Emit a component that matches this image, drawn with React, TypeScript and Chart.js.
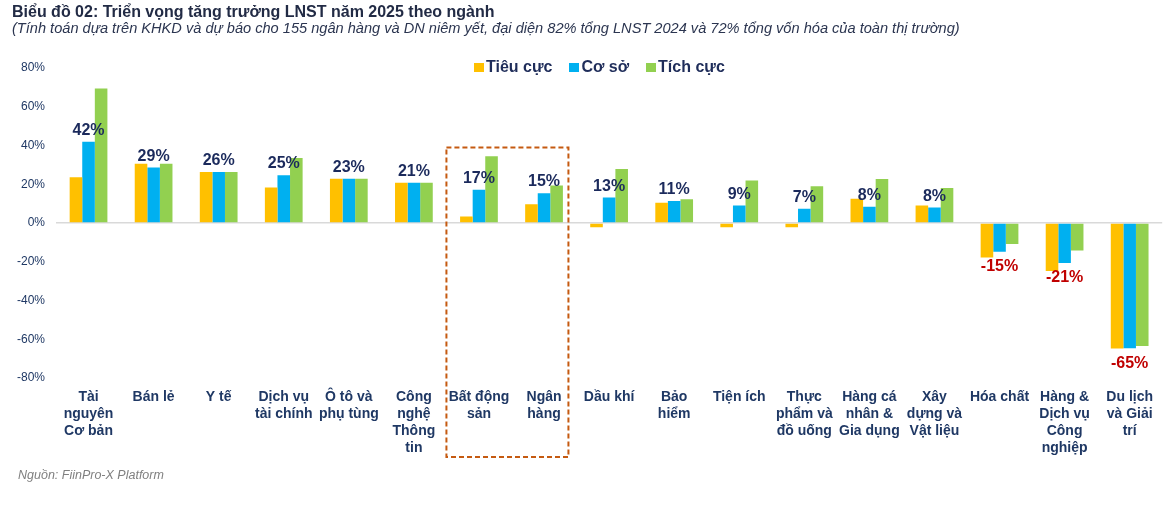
import React, { useEffect, useRef } from "react";
import { Chart, registerables } from "chart.js";

Chart.register(...registerables);

const categories: string[][] = [
  ["Tài", "nguyên", "Cơ bản"],
  ["Bán lẻ"],
  ["Y tế"],
  ["Dịch vụ", "tài chính"],
  ["Ô tô và", "phụ tùng"],
  ["Công", "nghệ", "Thông", "tin"],
  ["Bất động", "sản"],
  ["Ngân", "hàng"],
  ["Dầu khí"],
  ["Bảo", "hiểm"],
  ["Tiện ích"],
  ["Thực", "phẩm và", "đồ uống"],
  ["Hàng cá", "nhân &", "Gia dụng"],
  ["Xây", "dựng và", "Vật liệu"],
  ["Hóa chất"],
  ["Hàng &", "Dịch vụ", "Công", "nghiệp"],
  ["Du lịch", "và Giải", "trí"],
];

const tieuCuc: number[] = [23.6, 30.6, 26.3, 18.3, 22.9, 20.8, 3.4, 9.7, -2.2, 10.4, -2.2, -2.2, 12.5, 9.0, -17.8, -24.8, -64.8];
const coSo: number[] = [42.0, 28.6, 26.3, 24.7, 22.9, 20.8, 17.1, 15.4, 13.1, 11.4, 9.0, 7.4, 8.4, 8.0, -14.9, -20.6, -64.6];
const tichCuc: number[] = [69.4, 30.6, 26.3, 33.5, 22.9, 20.8, 34.5, 19.3, 27.9, 12.3, 21.9, 19.0, 22.7, 18.1, -10.8, -14.2, -63.5];

const seriesNames: string[] = ["Tiêu cực", "Cơ sở", "Tích cực"];
const seriesColors: string[] = ["#FFC000", "#00B0F0", "#92D050"];
const yTicks: number[] = [-80, -60, -40, -20, 0, 20, 40, 60, 80];

const highlightFrom = 6; // "Bất động sản"
const highlightTo = 7; // "Ngân hàng"
const highlightTopValue = 39;

const NAVY = "#1F2D5A";
const FONT = "'Liberation Sans', Arial, sans-serif";

const labelPlugin = {
  id: "valueLabels",
  afterDatasetsDraw(chart: any) {
    const ctx = chart.ctx;
    const meta = chart.getDatasetMeta(1);
    ctx.save();
    ctx.font = `bold 16px ${FONT}`;
    ctx.textAlign = "center";
    meta.data.forEach((bar: any, i: number) => {
      const v = coSo[i];
      const txt = `${Math.round(v)}%`;
      if (v >= 0) {
        ctx.fillStyle = "#1B2A5C";
        ctx.textBaseline = "alphabetic";
        ctx.fillText(txt, bar.x, bar.y - 7);
      } else {
        ctx.fillStyle = "#C00000";
        ctx.textBaseline = "top";
        ctx.fillText(txt, bar.x, bar.y + 7);
      }
    });
    ctx.restore();
  },
};

const boxPlugin = {
  id: "highlightBox",
  afterDraw(chart: any) {
    const ctx = chart.ctx;
    const x = chart.scales.x;
    const y = chart.scales.y;
    const catW = (chart.chartArea.right - chart.chartArea.left) / categories.length;
    const left = x.getPixelForValue(highlightFrom) - catW * 0.5;
    const right = x.getPixelForValue(highlightTo) + catW * 0.375;
    const top = y.getPixelForValue(highlightTopValue);
    const bottom = chart.chartArea.bottom + 79;
    ctx.save();
    ctx.strokeStyle = "#C55A11";
    ctx.lineWidth = 2;
    ctx.setLineDash([5, 3]);
    ctx.strokeRect(left, top, right - left, bottom - top);
    ctx.restore();
  },
};

export default function App() {
  const canvasRef = useRef<HTMLCanvasElement | null>(null);

  useEffect(() => {
    if (!canvasRef.current) return;
    const chart = new Chart(canvasRef.current, {
      type: "bar",
      data: {
        labels: categories,
        datasets: [tieuCuc, coSo, tichCuc].map((d, i) => ({
          label: seriesNames[i],
          data: d,
          backgroundColor: seriesColors[i],
          borderWidth: 0,
          categoryPercentage: 0.58,
          barPercentage: 1.0,
        })),
      },
      options: {
        responsive: false,
        animation: false,
        layout: { padding: { top: 68, left: 0, right: 0, bottom: 0 } },
        plugins: {
          legend: { display: false },
          tooltip: { enabled: false },
          title: { display: false },
        },
        scales: {
          x: {
            grid: { display: false, drawTicks: false },
            border: { display: false },
            ticks: {
              autoSkip: false,
              maxRotation: 0,
              minRotation: 0,
              padding: 11,
              color: "#1F3864",
              font: { family: FONT, size: 14, weight: "bold", lineHeight: 1.2 },
            },
            afterFit: (s: any) => {
              s.height = 128;
            },
          },
          y: {
            min: -80,
            max: 80,
            afterBuildTicks: (s: any) => {
              s.ticks = yTicks.map((v) => ({ value: v }));
            },
            grid: {
              drawTicks: false,
              color: (c: any) => (c.tick && c.tick.value === 0 ? "#D9D9D9" : "rgba(0,0,0,0)"),
              lineWidth: 1.5,
            },
            border: { display: false },
            ticks: {
              padding: 11,
              color: "#1F3864",
              font: { family: FONT, size: 12 },
              callback: (v: any) => `${v}%`,
            },
            afterFit: (s: any) => {
              s.width = 56;
            },
          },
        },
      },
      plugins: [labelPlugin, boxPlugin],
    } as any);
    return () => chart.destroy();
  }, []);

  return (
    <div style={{ position: "fixed", left: 0, top: 0, width: 1164, height: 506, background: "#fff", fontFamily: FONT }}>
      <canvas ref={canvasRef} width={1164} height={506} style={{ position: "absolute", left: 0, top: 0 }} />
      <div style={{ position: "absolute", left: 12, top: 3, fontSize: 16, fontWeight: "bold", color: "#222B45", whiteSpace: "nowrap" }}>
        Biểu đồ 02: Triển vọng tăng trưởng LNST năm 2025 theo ngành
      </div>
      <div style={{ position: "absolute", left: 12, top: 20, fontSize: 14.6, fontStyle: "italic", color: "#2B3550", whiteSpace: "nowrap" }}>
        (Tính toán dựa trên KHKD và dự báo cho 155 ngân hàng và DN niêm yết, đại diện 82% tổng LNST 2024 và 72% tổng vốn hóa của toàn thị trường)
      </div>
      <div style={{ position: "absolute", left: 474, top: 58, display: "flex", alignItems: "center", gap: 17, fontSize: 16, fontWeight: "bold", color: NAVY, whiteSpace: "nowrap" }}>
        {seriesNames.map((n, i) => (
          <div key={n} style={{ display: "flex", alignItems: "center" }}>
            <span style={{ display: "inline-block", width: 10, height: 9, background: seriesColors[i], marginRight: 2 }} />
            <span>{n}</span>
          </div>
        ))}
      </div>
      <div style={{ position: "absolute", left: 18, top: 468, fontSize: 12.5, fontStyle: "italic", color: "#808080", whiteSpace: "nowrap" }}>
        Nguồn: FiinPro-X Platform
      </div>
    </div>
  );
}
